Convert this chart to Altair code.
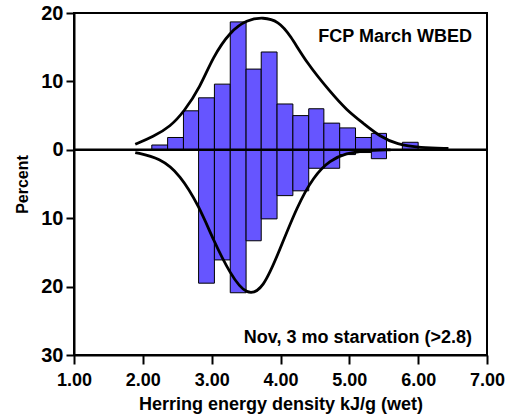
import altair as alt
import pandas as pd

# Histogram bin edges (kJ/g wet)
bin_edges = [2.13, 2.36, 2.59, 2.81, 3.04, 3.27, 3.50, 3.72, 3.95, 4.18,
             4.41, 4.63, 4.86, 5.09, 5.32, 5.54, 5.77, 6.00]
# Upper panel: FCP March WBED (percent)
upper_pct = [0.7, 1.8, 5.7, 7.6, 9.6, 18.7, 11.8, 14.3, 6.7, 5.0,
             6.0, 3.9, 3.2, 1.8, 2.4, 0.0, 1.1]
# Lower panel: Nov, 3 mo starvation (percent, drawn downward)
lower_pct = [0.0, 0.0, 0.0, 19.5, 16.1, 20.9, 13.3, 10.1, 6.7, 6.0,
             2.7, 2.7, 0.7, 0.4, 1.3, 0.0, 0.0]

# Fitted curves
upper_curve_x = [1.89, 2.15, 2.40, 2.60, 2.83, 3.02, 3.27, 3.51, 3.75, 3.97,
                 4.14, 4.38, 4.72, 4.96, 5.20, 5.45, 5.69, 6.03, 6.44]
upper_curve_y = [0.8, 1.9, 3.4, 5.6, 9.1, 13.6, 17.3, 19.0, 19.4, 18.8,
                 16.8, 12.7, 8.5, 5.8, 3.9, 1.9, 0.8, 0.3, 0.2]
lower_curve_x = [1.89, 2.25, 2.54, 2.82, 3.02, 3.27, 3.51, 3.75, 3.99,
                 4.24, 4.48, 4.72, 4.96, 5.20, 5.60]
lower_curve_y = [-0.4, -1.2, -3.6, -8.3, -13.1, -18.2, -21.4, -20.4, -14.6,
                 -8.3, -3.9, -1.5, -0.5, -0.15, 0.0]

y_ticks = [-30, -20, -10, 0, 10, 20]
x_ticks = [1, 2, 3, 4, 5, 6, 7]

rows = []
for i in range(len(upper_pct)):
    if upper_pct[i] > 0:
        rows.append({"x": bin_edges[i], "x2": bin_edges[i + 1], "y": upper_pct[i], "y2": 0})
    if lower_pct[i] > 0:
        rows.append({"x": bin_edges[i], "x2": bin_edges[i + 1], "y": -lower_pct[i], "y2": 0})
bars_df = pd.DataFrame(rows)

curves_df = pd.DataFrame(
    [{"x": a, "y": b, "s": "up"} for a, b in zip(upper_curve_x, upper_curve_y)]
    + [{"x": a, "y": b, "s": "low"} for a, b in zip(lower_curve_x, lower_curve_y)]
)

FONT = "Liberation Sans"

xscale = alt.Scale(domain=[1, 7], nice=False)
yscale = alt.Scale(domain=[-30, 20], nice=False)

xaxis = alt.Axis(values=x_ticks, format=".2f", title="Herring energy density kJ/g (wet)",
                 grid=False, tickSize=9, labelPadding=7, titlePadding=6, labelFlush=False)
yaxis = alt.Axis(values=y_ticks, labelExpr="abs(datum.value)", title="Percent",
                 grid=False, tickSize=8, labelPadding=3, titlePadding=10, labelFlush=False,
                 labelFontSize=20, titleFontSize=16)

bars = alt.Chart(bars_df).mark_rect(color="#6655ff", stroke="black", strokeWidth=1).encode(
    x=alt.X("x:Q", scale=xscale, axis=xaxis),
    x2="x2:Q",
    y=alt.Y("y:Q", scale=yscale, axis=yaxis),
    y2="y2:Q",
)

zero = alt.Chart(pd.DataFrame({"y": [0]})).mark_rule(color="black", strokeWidth=2.5).encode(
    y=alt.Y("y:Q", scale=yscale)
)

curves = alt.Chart(curves_df).mark_line(color="black", strokeWidth=2.8, interpolate="basis").encode(
    x=alt.X("x:Q", scale=xscale),
    y=alt.Y("y:Q", scale=yscale),
    detail="s:N",
)

label_top = alt.Chart(pd.DataFrame({"t": ["FCP March WBED"]})).mark_text(
    align="right", baseline="alphabetic", font=FONT, fontSize=18, fontWeight="bold", color="black"
).encode(text="t:N", x=alt.value(398), y=alt.value(29))

label_bot = alt.Chart(pd.DataFrame({"t": ["Nov, 3 mo starvation (>2.8)"]})).mark_text(
    align="right", baseline="alphabetic", font=FONT, fontSize=18, fontWeight="bold", color="black"
).encode(text="t:N", x=alt.value(398), y=alt.value(330))

chart = alt.layer(bars, zero, curves, label_top, label_bot).properties(
    width=413, height=342,
    autosize=alt.AutoSizeParams(type="none"),
    padding={"left": 74, "top": 13, "right": 18, "bottom": 62},
).configure_view(
    stroke="black", strokeWidth=2
).configure_axis(
    domainColor="black", domainWidth=2, tickColor="black", tickWidth=2,
    labelFont=FONT, labelFontSize=18, labelFontWeight="bold", labelColor="black",
    titleFont=FONT, titleFontSize=18, titleFontWeight="bold", titleColor="black",
)

chart.save("out.html", embed_options={"renderer": "svg", "actions": False})
